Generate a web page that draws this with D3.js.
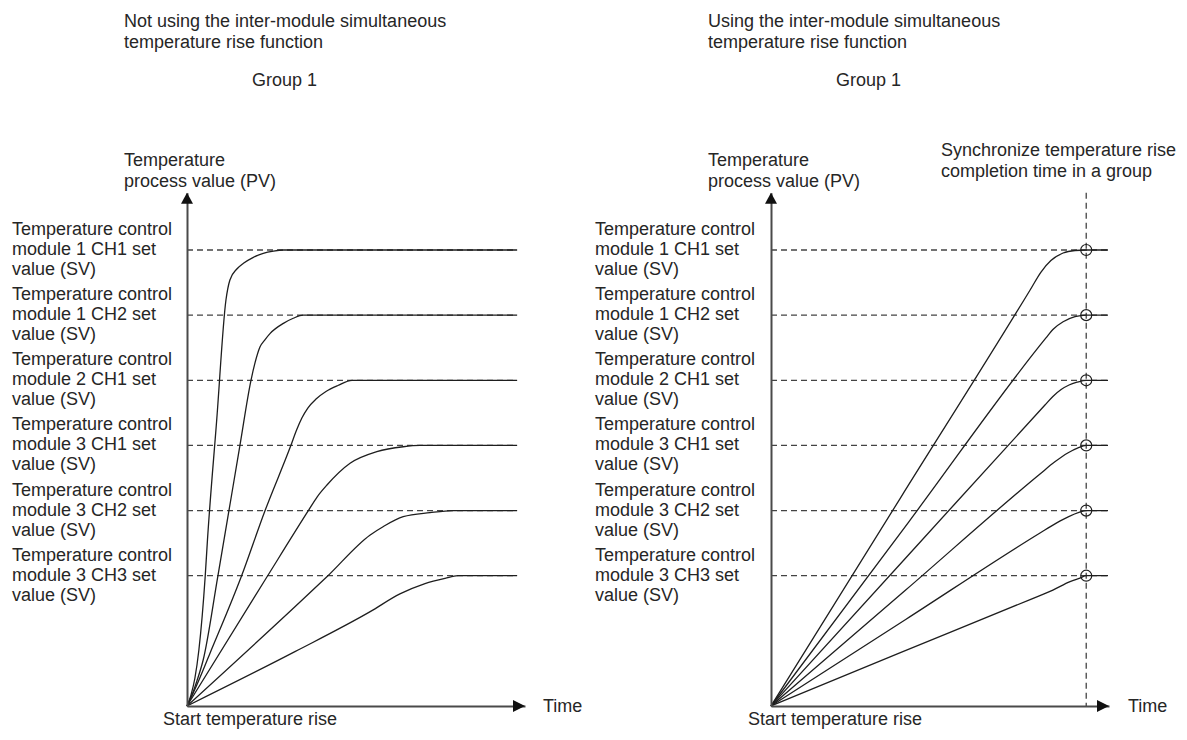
<!DOCTYPE html>
<html><head><meta charset="utf-8">
<script src="https://cdn.jsdelivr.net/npm/d3@7"></script>
<style>
html,body{margin:0;padding:0;background:#fff;}
svg{display:block;font-family:"Liberation Sans",Arial,Helvetica,sans-serif;}
</style>
</head><body>
<svg id="chart" width="1187" height="740"></svg>
<script>
// ---------- DATA ----------
const panelTitles = [
  ["Not using the inter-module simultaneous", "temperature rise function"],
  ["Using the inter-module simultaneous", "temperature rise function"]
];
const groupLabel = "Group 1";
const yAxisTitle = ["Temperature", "process value (PV)"];
const xAxisTitle = "Time";
const startLabel = "Start temperature rise";
const syncNote = ["Synchronize temperature rise", "completion time in a group"];

const channelLabels = [
  ["Temperature control", "module 1 CH1 set", "value (SV)"],
  ["Temperature control", "module 1 CH2 set", "value (SV)"],
  ["Temperature control", "module 2 CH1 set", "value (SV)"],
  ["Temperature control", "module 3 CH1 set", "value (SV)"],
  ["Temperature control", "module 3 CH2 set", "value (SV)"],
  ["Temperature control", "module 3 CH3 set", "value (SV)"]
];
// set values (SV), arbitrary temperature units
const setValues = [350, 300, 250, 200, 150, 100];

// [time, PV] points — without simultaneous rise
const pvWithout = [
  [[0,0],[1.2,8.4],[2.4,21.5],[3.6,43],[5.5,99],[6.2,127.4],[9,219.5],[11.8,311.6],[13,327],[15.1,335.4],[17.1,339.8],[20.1,344.4],[23.1,347.5],[26.2,349.2],[29.2,350],[100,350]],
  [[0,0],[1.5,8.4],[3,19.2],[4.9,35.3],[9.3,99],[16,199.5],[19.4,250.2],[20.6,263.3],[22.1,275.5],[23.6,281],[25.2,286],[29.2,293.7],[32.2,297.6],[35.2,300],[100,300]],
  [[0,0],[2.7,14.6],[7,40.7],[16.4,99],[23.6,149.7],[31.4,199.5],[33.2,211.8],[34.8,221],[36.6,228.7],[39.1,235.6],[42.1,241.4],[45.7,246],[50,250],[100,250]],
  [[0,0],[24.2,99],[36.7,149.7],[39.4,160.4],[42.4,169.6],[49.4,186.3],[57.5,195.2],[65.5,199],[70.6,200],[100,200]],
  [[0,0],[32.7,76.2],[42.3,99],[55.5,131.3],[59.4,137.6],[65.5,145.3],[73.6,148.4],[80.6,150],[100,150]],
  [[0,0],[32.7,41.7],[55.5,72.4],[64.5,86],[72.1,94],[78.2,98],[82.1,100],[100,100]]
];
// [time, PV] points — with simultaneous rise (all complete at the same time)
const pvWith = [
  [[0,0],[39.2,159.6],[78.5,319.3],[81.8,333.1],[84.8,341.9],[88.5,347.7],[92.1,349.6],[95.5,350],[102.1,350]],
  [[0,0],[41.7,141.2],[83.3,282.5],[85.4,289],[88.5,294.9],[92.1,298.8],[95.5,300],[102.1,300]],
  [[0,0],[41.5,115.5],[83,231],[85.4,237.6],[87.9,242.9],[90.3,246.4],[92.7,248.5],[95.5,250],[102.1,250]],
  [[0,0],[40.8,89],[81.5,178.1],[86,187.4],[89.9,194.2],[93,198.2],[95.5,200],[102.1,200]],
  [[0,0],[40.8,66.4],[81.5,132.8],[86.3,140.2],[90.2,145.4],[93.3,148.6],[95.5,150],[102.1,150]],
  [[0,0],[39.2,40.9],[78.5,81.7],[85.4,89],[90.6,95.4],[93.6,98.2],[95.5,100],[102.1,100]]
];
const completionTime = 95.5;
const timeMax = 102.4;
const pvMax = 394;
const levelLineEnd = [100, 102.1];

// ---------- DRAW ----------
const svg = d3.select("#chart");
svg.append("rect").attr("width",1187).attr("height",740).attr("fill","#fff");

const textColor = "#262626";
const lineColor = "#1e1e1e";
const axisColor = "#4a4a4a";
const dashColor = "#444";

const y = d3.scaleLinear().domain([0, 350]).range([706, 250]);
const yAxisScale = y.copy().domain([0, pvMax]).range([y(0), y(pvMax)]);

const panels = [
  {x0:187, titleX:124, groupX:252, labelX:12, axisTitleX:124, startX:163, timeX:543, data:pvWithout, end:levelLineEnd[0], sync:false},
  {x0:771, titleX:708, groupX:836, labelX:595, axisTitleX:708, startX:748, timeX:1128, data:pvWith, end:levelLineEnd[1], sync:true}
];

panels.forEach((p, pi) => {
  const g = svg.append("g");
  const x = d3.scaleLinear().domain([0, timeMax]).range([p.x0, p.x0 + 338]);
  const txt = (tx, ty, s) => g.append("text").attr("x", tx).attr("y", ty)
      .attr("font-size", 18).attr("fill", textColor).text(s);

  // titles
  txt(p.titleX, 27, panelTitles[pi][0]);
  txt(p.titleX, 48, panelTitles[pi][1]);
  txt(p.groupX, 86, groupLabel);

  // axis title
  yAxisTitle.forEach((t,i)=> txt(p.axisTitleX, 166 + i*21, t));

  // level dashed lines
  g.selectAll(".lvl").data(setValues).join("line")
    .attr("x1", x(0)).attr("x2", x(p.end))
    .attr("y1", d=>y(d)).attr("y2", d=>y(d))
    .attr("stroke", dashColor).attr("stroke-width",1.3).attr("stroke-dasharray","6,4");

  // sync vertical line
  if (p.sync) {
    g.append("line").attr("x1", x(completionTime)).attr("x2", x(completionTime))
      .attr("y1", y(pvMax)).attr("y2", y(0))
      .attr("stroke", dashColor).attr("stroke-width",1.3).attr("stroke-dasharray","6,4");
  }

  // curves
  const line = d3.line().x(d=>x(d[0])).y(d=>y(d[1])).curve(d3.curveMonotoneX);
  g.selectAll(".pv").data(p.data).join("path")
    .attr("d", line).attr("fill","none").attr("stroke", lineColor).attr("stroke-width",1.3);

  if (p.sync) {
    g.selectAll(".pt").data(setValues).join("circle")
      .attr("cx", x(completionTime)).attr("cy", d=>y(d)).attr("r",5.5)
      .attr("fill","none").attr("stroke", lineColor).attr("stroke-width",1.2);
    syncNote.forEach((t,i)=> txt(941, 156 + i*21, t));
  }

  // axes
  const ax = g.append("g").attr("transform", `translate(${x(0)},0)`)
    .call(d3.axisLeft(yAxisScale).tickValues([]).tickSizeOuter(0));
  ax.select(".domain").attr("stroke", axisColor).attr("stroke-width",2);
  const bx = g.append("g").attr("transform", `translate(0,${y(0)})`)
    .call(d3.axisBottom(x).tickValues([]).tickSizeOuter(0));
  bx.select(".domain").attr("stroke", axisColor).attr("stroke-width",2);

  // arrowheads
  const tipY = y(pvMax), ax0 = x(0);
  g.append("path").attr("d", `M${ax0},${tipY} L${ax0-6},${tipY+11} L${ax0+6},${tipY+11} Z`).attr("fill","#111");
  const tipX = x(timeMax), by = y(0);
  g.append("path").attr("d", `M${tipX},${by} L${tipX-12},${by-6} L${tipX-12},${by+6} Z`).attr("fill","#111");

  // channel labels
  setValues.forEach((sv,i)=>{
    channelLabels[i].forEach((t,j)=> txt(p.labelX, y(sv) - 15 + j*20, t));
  });

  txt(p.startX, 725, startLabel);
  txt(p.timeX, 712, xAxisTitle);
});
</script>
</body></html>
